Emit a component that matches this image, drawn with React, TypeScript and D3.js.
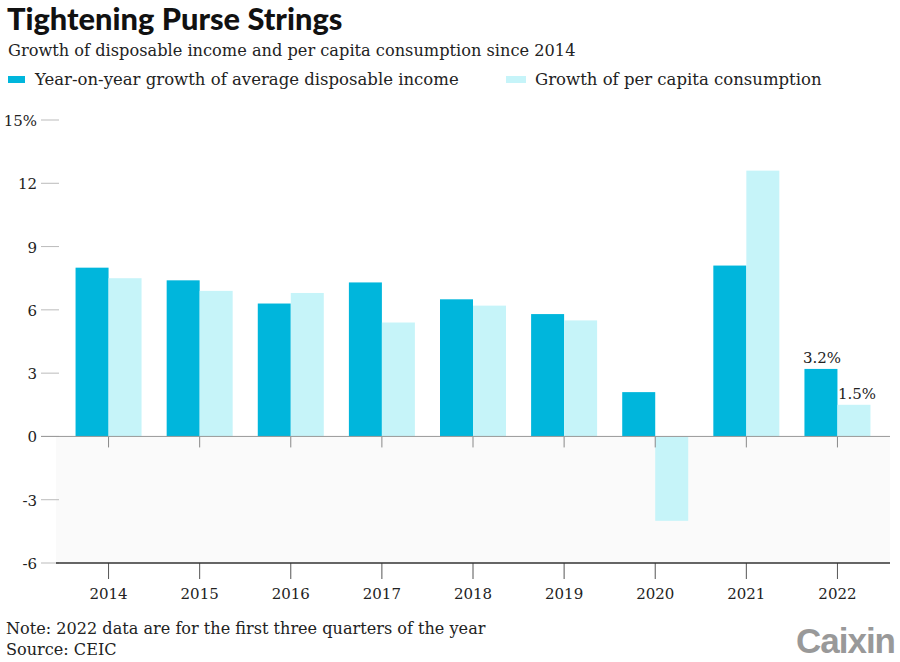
import React from 'react'
import * as d3 from 'd3'

const years = ['2014', '2015', '2016', '2017', '2018', '2019', '2020', '2021', '2022']
const incomeGrowth = [8.0, 7.4, 6.3, 7.3, 6.5, 5.8, 2.1, 8.1, 3.2]
const consumptionGrowth = [7.5, 6.9, 6.8, 5.4, 6.2, 5.5, -4.0, 12.6, 1.5]
const yTicks = [15, 12, 9, 6, 3, 0, -3, -6]
const seriesNames = ['Year-on-year growth of average disposable income', 'Growth of per capita consumption']

const W = 900
const H = 662
const DARK = '#00b6dc'
const LIGHT = '#c6f4f9'
const SERIF = '"DejaVu Serif", serif'

const App = () => {
    const x = d3.scaleBand<string>().domain(years).range([63, 883]).paddingInner(0).paddingOuter(0)
    const y = d3.scaleLinear().domain([-6, 15]).range([563, 120])
    const barW = 33
    const left = 56
    const right = 890

    return (
        <svg width={W} height={H} style={{ position: 'absolute', left: 0, top: 0 }}>
            <rect width={W} height={H} fill="#fff" />
            <text x={7} y={30} fontFamily="Lato, sans-serif" fontWeight={900} fontSize={30.8} fill="#111">Tightening Purse Strings</text>
            <text x={8} y={56} fontFamily={SERIF} fontSize={16.2} fill="#222">Growth of disposable income and per capita consumption since 2014</text>

            <rect x={8} y={76} width={17} height={7} fill={DARK} />
            <text x={35} y={85} fontFamily={SERIF} fontSize={16.5} fill="#222">{seriesNames[0]}</text>
            <rect x={506} y={76} width={20} height={7} fill={LIGHT} />
            <text x={535} y={85} fontFamily={SERIF} fontSize={16.5} fill="#222">{seriesNames[1]}</text>

            <rect x={left} y={y(0)} width={right - left} height={y(-6) - y(0)} fill="#fafafa" />

            {yTicks.map(t => (
                <g key={t}>
                    <line x1={41} x2={59} y1={y(t)} y2={y(t)} stroke="#bbb" strokeWidth={1} />
                    <text x={37} y={y(t) + 6} textAnchor="end" fontFamily={SERIF} fontSize={15} fill="#222">
                        {t === 15 ? '15%' : t}
                    </text>
                </g>
            ))}

            {years.map((yr, i) => {
                const c = (x(yr) as number) + x.bandwidth() / 2
                const a = incomeGrowth[i]
                const b = consumptionGrowth[i]
                return (
                    <g key={yr}>
                        <rect x={c - barW} y={y(Math.max(0, a))} width={barW} height={Math.abs(y(a) - y(0))} fill={DARK} />
                        <rect x={c} y={y(Math.max(0, b))} width={barW} height={Math.abs(y(b) - y(0))} fill={LIGHT} />
                        <line x1={c} x2={c} y1={y(0)} y2={y(0) + 11} stroke="#888" strokeWidth={1} />
                        <line x1={c} x2={c} y1={y(-6)} y2={y(-6) + 16} stroke="#555" strokeWidth={1} />
                        <text x={c} y={599} textAnchor="middle" fontFamily={SERIF} fontSize={15} fill="#222">{yr}</text>
                    </g>
                )
            })}

            <line x1={41} x2={right} y1={y(0)} y2={y(0)} stroke="#999" strokeWidth={1} />
            <line x1={left} x2={right} y1={y(-6)} y2={y(-6)} stroke="#333" strokeWidth={1.5} />

            {(() => {
                const c = (x('2022') as number) + x.bandwidth() / 2
                return (
                    <g fontFamily={SERIF} fontSize={15} fill="#222">
                        <text x={c - barW / 2 + 1} y={y(incomeGrowth[8]) - 6} textAnchor="middle">{incomeGrowth[8].toFixed(1)}%</text>
                        <text x={c + barW / 2 + 3} y={y(consumptionGrowth[8]) - 6} textAnchor="middle">{consumptionGrowth[8].toFixed(1)}%</text>
                    </g>
                )
            })()}

            <text x={6} y={634} fontFamily={SERIF} fontSize={16.1} fill="#222">Note: 2022 data are for the first three quarters of the year</text>
            <text x={6} y={655} fontFamily={SERIF} fontSize={16.1} fill="#222">Source: CEIC</text>

            <text x={895} y={653} textAnchor="end" fontFamily='"Liberation Sans", Arial, sans-serif' fontWeight={700} fontSize={35} fill="#999" letterSpacing={-1}>Caixin</text>
        </svg>
    )
}

export default App
